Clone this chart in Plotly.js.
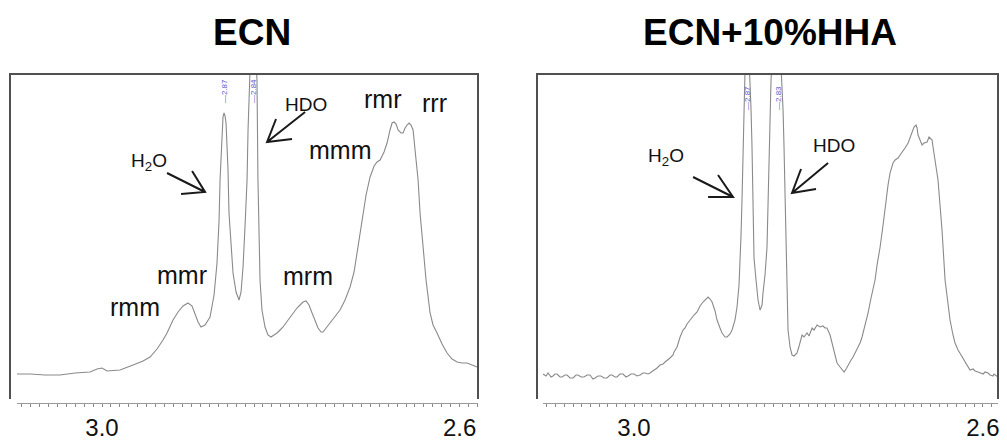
<!DOCTYPE html>
<html>
<head>
<meta charset="utf-8">
<script src="https://cdn.plot.ly/plotly-3.0.1.min.js"></script>
<style>html,body{margin:0;padding:0;background:#fff;}#chart{width:1007px;height:441px;}</style>
</head>
<body>
<div id="chart"></div>
<script>
// ---- Data (chemical shift, ppm / relative intensity) ----
const ecnPpm = [3.0951,3.0805,3.0638,3.0470,3.0302,3.0134,3.0056,3.0000,2.9944,2.9799,2.9653,2.9541,2.9463,2.9385,2.9318,2.9273,2.9206,2.9150,2.9094,2.9038,2.8993,2.8960,2.8926,2.8893,2.8848,2.8792,2.8747,2.8714,2.8691,2.8680,2.8658,2.8647,2.8636,2.8624,2.8613,2.8591,2.8580,2.8557,2.8535,2.8501,2.8468,2.8445,2.8423,2.8400,2.8378,2.8367,2.8356,2.8312,2.8289,2.8267,2.8256,2.8233,2.8211,2.8177,2.8144,2.8110,2.8077,2.8043,2.8009,2.7975,2.7919,2.7864,2.7819,2.7785,2.7752,2.7718,2.7685,2.7651,2.7617,2.7584,2.7550,2.7528,2.7494,2.7450,2.7394,2.7338,2.7282,2.7226,2.7181,2.7148,2.7114,2.7081,2.7047,2.7002,2.6957,2.6924,2.6890,2.6846,2.6812,2.6779,2.6756,2.6734,2.6711,2.6689,2.6655,2.6633,2.6611,2.6588,2.6566,2.6544,2.6521,2.6499,2.6465,2.6443,2.6409,2.6376,2.6331,2.6298,2.6253,2.6197,2.6141,2.6085,2.6029,2.5973,2.5917,2.5861,2.5805];
const ecnInt = [29,29,28,28,30,31,34,35,32,33,38,42,46,54,63,70,83,91,97,100,97,90,81,76,78,86,108,140,183,223,268,286,290,287,280,233,190,153,130,111,103,111,136,178,223,273,323,420,363,323,223,123,93,76,68,66,68,70,73,76,83,90,95,98,101,102,98,90,82,75,71,71,75,80,86,93,103,116,131,150,171,190,208,226,237,241,243,251,260,273,280,281,279,273,270,270,275,278,280,278,273,253,223,190,156,123,90,78,70,59,50,44,41,40,40,38,36];

const hhaPpm = [3.1044,3.1009,3.0986,3.0952,3.0929,3.0906,3.0883,3.0849,3.0826,3.0791,3.0768,3.0734,3.0700,3.0665,3.0642,3.0608,3.0574,3.0539,3.0505,3.0471,3.0447,3.0413,3.0379,3.0344,3.0310,3.0275,3.0252,3.0218,3.0195,3.0161,3.0126,3.0092,3.0069,3.0034,3.0000,2.9966,2.9931,2.9897,2.9874,2.9840,2.9817,2.9782,2.9759,2.9736,2.9702,2.9667,2.9644,2.9610,2.9587,2.9553,2.9541,2.9507,2.9472,2.9438,2.9415,2.9392,2.9358,2.9335,2.9312,2.9277,2.9243,2.9209,2.9186,2.9174,2.9151,2.9128,2.9105,2.9071,2.9048,2.9014,2.8991,2.8956,2.8933,2.8899,2.8876,2.8842,2.8819,2.8796,2.8784,2.8773,2.8761,2.8750,2.8738,2.8727,2.8704,2.8681,2.8670,2.8658,2.8647,2.8635,2.8624,2.8601,2.8578,2.8555,2.8532,2.8521,2.8498,2.8475,2.8463,2.8452,2.8440,2.8429,2.8360,2.8302,2.8291,2.8280,2.8268,2.8257,2.8245,2.8234,2.8211,2.8188,2.8165,2.8131,2.8107,2.8073,2.8050,2.8016,2.7993,2.7958,2.7936,2.7901,2.7867,2.7833,2.7810,2.7787,2.7752,2.7729,2.7695,2.7672,2.7637,2.7614,2.7591,2.7568,2.7545,2.7511,2.7488,2.7465,2.7431,2.7408,2.7385,2.7350,2.7316,2.7282,2.7236,2.7213,2.7178,2.7144,2.7121,2.7087,2.7064,2.7030,2.7006,2.6972,2.6949,2.6915,2.6892,2.6857,2.6834,2.6811,2.6789,2.6766,2.6754,2.6743,2.6720,2.6697,2.6674,2.6639,2.6617,2.6605,2.6582,2.6571,2.6548,2.6514,2.6491,2.6468,2.6433,2.6399,2.6376,2.6342,2.6319,2.6284,2.6238,2.6193,2.6147,2.6112,2.6089,2.6055,2.6032,2.5997,2.5974,2.5940,2.5917,2.5883,2.5872,2.5826];
const hhaInt = [29,27,30,26,27,29,29,26,26,28,28,25,25,28,28,26,26,28,28,24,25,27,27,25,25,28,28,26,26,29,29,26,27,29,29,27,28,30,30,29,30,32,33,35,38,39,41,43,45,48,51,56,66,73,75,79,83,86,88,91,97,101,103,105,106,104,101,92,83,75,70,66,66,69,73,83,96,118,140,168,206,253,290,323,420,343,323,293,256,173,145,123,103,93,98,110,128,156,203,256,293,323,420,323,293,256,203,156,113,73,56,48,47,50,57,68,66,70,67,75,73,78,76,77,75,75,68,60,48,40,36,33,31,34,38,43,46,50,56,60,66,77,90,105,123,138,156,178,196,218,230,240,243,245,248,253,255,260,265,271,276,278,275,268,262,258,260,261,266,265,263,256,243,223,198,173,123,98,83,68,60,53,46,39,33,34,32,31,30,29,31,30,28,27,29,26];

const panelTitles = ["ECN", "ECN+10%HHA"];
const tickValues = [3.0, 2.6];
const tickLabels = ["3.0", "2.6"];

// triad / solvent labels: [text, ppm, intensity]
const ecnLabels = [["rmm",2.9631,96],["mmr",2.9105,128],["mrm",2.7696,127],["mmm",2.7338,253],["rmr",2.6868,304],["rrr",2.6286,300]];
const ecnSolvent = [["H<sub>2</sub>O",2.9474,241],["HDO",2.7718,299]];
const hhaSolvent = [["H<sub>2</sub>O",2.9633,246],["HDO",2.7706,258]];
const ecnPeakLabels = [["—2.87",2.8635],["—2.84",2.8311]];
const hhaPeakLabels = [["—2.87",2.8704],["—2.83",2.8349]];

// arrows: tail, tip, arm1, arm2 (ppm, intensity)
const ecnArrows = [
  [[2.9273,230],[2.8848,211],[2.8993,232],[2.9116,209]],
  [[2.7729,291],[2.8154,261],[2.8054,284],[2.7875,264]]
];
const hhaArrows = [
  [[2.9323,226],[2.8865,206],[2.9037,228],[2.9151,206]],
  [[2.7775,240],[2.8188,210],[2.8085,234],[2.7913,214]]
];

// ---- Layout helpers (pixel -> paper) ----
const W = 1007, H = 441;
const px = v => v / W;
const py = v => 1 - v / H;

const lineColor = '#8a8a8a';
const traces = [
  {x: ecnPpm, y: ecnInt, type: 'scatter', mode: 'lines', line: {color: lineColor, width: 1.1}, xaxis: 'x', yaxis: 'y', hoverinfo: 'skip'},
  {x: hhaPpm, y: hhaInt, type: 'scatter', mode: 'lines', line: {color: lineColor, width: 1.1}, xaxis: 'x2', yaxis: 'y2', hoverinfo: 'skip'}
];

function xAxis(domain, range) {
  return {
    domain: domain, range: range, showgrid: false, zeroline: false,
    showline: true, linecolor: '#9a9a9a', linewidth: 1,
    tickmode: 'array', tickvals: tickValues, ticktext: tickLabels,
    ticks: 'outside', ticklen: 3, tickcolor: '#8a8a8a', tickwidth: 1,
    tickfont: {family: 'Liberation Sans, Arial, sans-serif', size: 24, color: '#111'},
    ticklabelstandoff: 0,
    minor: {tickmode: 'linear', tick0: 0, dtick: 0.01, ticks: 'outside', ticklen: 3, tickcolor: '#8a8a8a', tickwidth: 1, showgrid: false},
    fixedrange: true
  };
}
function yAxis(anchor) {
  return {domain: [py(403), py(74)], range: [0, 329], visible: false, fixedrange: true, anchor: anchor};
}

const annotations = [];
const labelFont = {family: 'Liberation Sans, Arial, sans-serif', size: 25, color: '#111'};
const solvFont = {family: 'Liberation Sans, Arial, sans-serif', size: 19, color: '#111'};
ecnLabels.forEach(l => annotations.push({text: l[0], x: l[1], y: l[2], xref: 'x', yref: 'y', showarrow: false, font: labelFont}));
ecnSolvent.forEach(l => annotations.push({text: l[0], x: l[1], y: l[2], xref: 'x', yref: 'y', showarrow: false, font: solvFont}));
hhaSolvent.forEach(l => annotations.push({text: l[0], x: l[1], y: l[2], xref: 'x2', yref: 'y2', showarrow: false, font: solvFont}));
const peakFont = {family: 'Liberation Sans, Arial, sans-serif', size: 8, color: '#5a5acc'};
ecnPeakLabels.forEach(l => annotations.push({text: l[0], x: l[1], y: 312, xref: 'x', yref: 'y', showarrow: false, textangle: -90, font: peakFont}));
hhaPeakLabels.forEach(l => annotations.push({text: l[0], x: l[1], y: 305, xref: 'x2', yref: 'y2', showarrow: false, textangle: -90, font: peakFont}));
const titleFont = {family: 'Liberation Sans, Arial, sans-serif', size: 37, color: '#000', weight: 'bold'};
annotations.push({text: '<b>' + panelTitles[0] + '</b>', x: px(252), y: py(33), xref: 'paper', yref: 'paper', xanchor: 'center', yanchor: 'middle', showarrow: false, font: titleFont});
annotations.push({text: '<b>' + panelTitles[1] + '</b>', x: px(770), y: py(33), xref: 'paper', yref: 'paper', xanchor: 'center', yanchor: 'middle', showarrow: false, font: titleFont});

const shapes = [];
// frames (left, top, right sides)
[[10, 478], [537, 998]].forEach(f => {
  shapes.push({type: 'path', xref: 'paper', yref: 'paper',
    path: `M ${px(f[0])} ${py(399)} L ${px(f[0])} ${py(74)} L ${px(f[1])} ${py(74)} L ${px(f[1])} ${py(399)}`,
    line: {color: '#505050', width: 2}});
});
function arrowShapes(arr, xr, yr) {
  arr.forEach(a => {
    const [t, tip, a1, a2] = a;
    shapes.push({type: 'path', xref: xr, yref: yr,
      path: `M ${t[0]} ${t[1]} L ${tip[0]} ${tip[1]} M ${a1[0]} ${a1[1]} L ${tip[0]} ${tip[1]} L ${a2[0]} ${a2[1]}`,
      line: {color: '#1a1a1a', width: 2}});
  });
}
arrowShapes(ecnArrows, 'x', 'y');
arrowShapes(hhaArrows, 'x2', 'y2');

const layout = {
  width: W, height: H,
  margin: {l: 0, r: 0, t: 0, b: 0},
  paper_bgcolor: '#fff', plot_bgcolor: 'rgba(0,0,0,0)',
  showlegend: false,
  xaxis: xAxis([px(17), px(478)], [3.0951, 2.5795]),
  yaxis: yAxis('x'),
  xaxis2: xAxis([px(543), px(998)], [3.1044, 2.5826]),
  yaxis2: yAxis('x2'),
  annotations: annotations,
  shapes: shapes
};
layout.xaxis.anchor = 'y';
layout.xaxis2.anchor = 'y2';

Plotly.newPlot('chart', traces, layout, {displayModeBar: false, staticPlot: true});
</script>
</body>
</html>
